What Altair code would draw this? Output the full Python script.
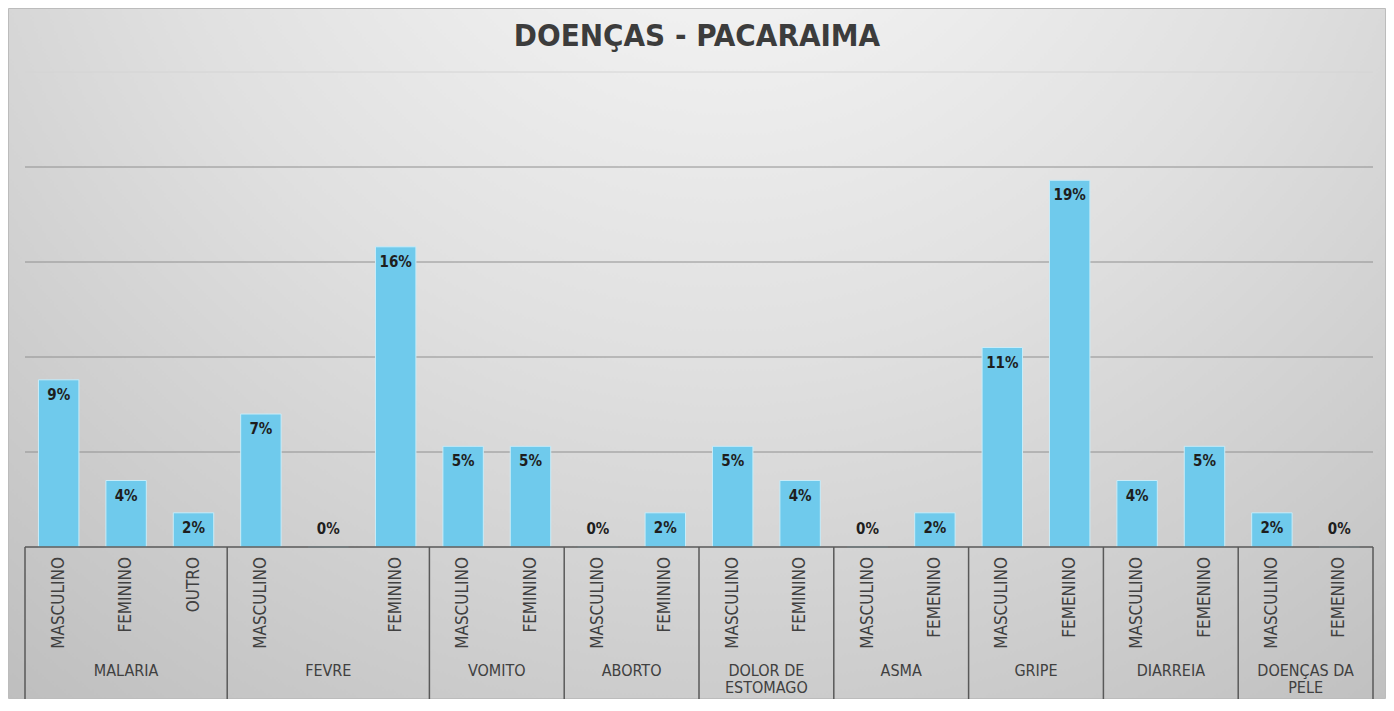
import altair as alt
import pandas as pd

# ---- data ----
title_text = "DOENÇAS -  PACARAIMA"
diseases = ["MALARIA", "FEVRE", "VOMITO", "ABORTO", "DOLOR DE\nESTOMAGO",
            "ASMA", "GRIPE", "DIARREIA", "DOENÇAS DA\nPELE"]
group_sizes = [3, 3, 2, 2, 2, 2, 2, 2, 2]
subcats = ["MASCULINO", "FEMININO", "OUTRO",
           "MASCULINO", "", "FEMININO",
           "MASCULINO", "FEMININO",
           "MASCULINO", "FEMININO",
           "MASCULINO", "FEMININO",
           "MASCULINO", "FEMENINO",
           "MASCULINO", "FEMENINO",
           "MASCULINO", "FEMENINO",
           "MASCULINO", "FEMENINO"]
values = [8.8, 3.5, 1.8,
          7.0, 0.0, 15.8,
          5.3, 5.3,
          0.0, 1.8,
          5.3, 3.5,
          0.0, 1.8,
          10.5, 19.3,
          3.5, 5.3,
          1.8, 0.0]
value_labels = ["9%", "4%", "2%", "7%", "0%", "16%", "5%", "5%", "0%", "2%",
                "5%", "4%", "0%", "2%", "11%", "19%", "4%", "5%", "2%", "0%"]
grid_ticks = [5, 10, 15, 20]
top_tick = [25]

# ---- tables built from the lists ----
bars = pd.DataFrame({
    "idx": list(range(len(values))),
    "sub": subcats,
    "value": values,
    "label": value_labels,
})
starts = []
s = 0
for g in group_sizes:
    starts.append(s)
    s += g
groups = pd.DataFrame({"name": diseases, "start": starts, "size": group_sizes})
bounds = pd.DataFrame({"b": starts + [s]})

W = 1348
H = 475
PAD = {"left": 17, "top": 64, "right": 13, "bottom": 152}
FONT = "DejaVu Sans Condensed"

xs = alt.Scale(domain=[0, len(values)], nice=False, zero=False)
ys = alt.Scale(domain=[0, 25], nice=False)

bg = alt.Chart(pd.DataFrame({"a": [0]})).mark_rect(
    fill=alt.RadialGradient(
        gradient="radial", x1=0.52, y1=0.08, x2=0.52, y2=0.08, r1=0, r2=0.85,
        stops=[alt.GradientStop(offset=0, color="#fbfbfb"),
               alt.GradientStop(offset=0.5, color="#e0e0e0"),
               alt.GradientStop(offset=1, color="#bebebe")]),
    stroke="#bcbcbc", strokeWidth=1
).encode(
    x=alt.value(-PAD["left"] + 0.5), x2=alt.value(W + PAD["right"] - 0.5),
    y=alt.value(-PAD["top"] + 0.5), y2=alt.value(H + PAD["bottom"] - 0.5)
)

title = alt.Chart(pd.DataFrame({"t": [title_text]})).mark_text(
    font=FONT, fontSize=31, fontWeight="bold", color="#3c3c3c",
    align="center", baseline="middle"
).encode(x=alt.value(W / 2 - 2), y=alt.value(-35), text="t:N")

grid = alt.Chart(pd.DataFrame({"t": grid_ticks})).mark_rule(
    color="#909090", strokeWidth=1
).encode(y=alt.Y("t:Q", scale=ys, axis=None), x=alt.value(0), x2=alt.value(W))

grid_top = alt.Chart(pd.DataFrame({"t": top_tick})).mark_rule(
    color="#d4d4d4", strokeWidth=1
).encode(y=alt.Y("t:Q", scale=ys, axis=None), x=alt.value(0), x2=alt.value(W))

base = alt.Chart(bars).transform_calculate(
    x0="datum.idx + 0.2", x1="datum.idx + 0.8", xm="datum.idx + 0.5",
    ly="max(datum.value, 1.75)"
)

bar = base.mark_bar(color="#6fcaec", stroke="#c9ecf8", strokeWidth=1).encode(
    x=alt.X("x0:Q", scale=xs, axis=None),
    x2="x1:Q",
    y=alt.Y("value:Q", scale=ys, axis=None),
    y2=alt.datum(0),
)

vlabels = base.mark_text(
    font=FONT, fontSize=15, fontWeight="bold", color="#1e1e1e",
    baseline="middle", dy=15
).encode(
    x=alt.X("xm:Q", scale=xs, axis=None),
    y=alt.Y("ly:Q", scale=ys, axis=None),
    text="label:N",
)

sublabels = base.mark_text(
    font=FONT, fontSize=17, color="#404040", angle=270, align="right",
    baseline="middle"
).encode(
    x=alt.X("xm:Q", scale=xs, axis=None),
    y=alt.value(H + 10),
    text="sub:N",
)

glabels = alt.Chart(groups).transform_calculate(
    c="datum.start + datum.size / 2"
).mark_text(
    font=FONT, fontSize=16, color="#404040", baseline="top", align="center",
    lineBreak="\n", lineHeight=17
).encode(
    x=alt.X("c:Q", scale=xs, axis=None),
    y=alt.value(H + 116),
    text="name:N",
)

seps = alt.Chart(bounds).mark_rule(color="#595959", strokeWidth=1.5).encode(
    x=alt.X("b:Q", scale=xs, axis=None),
    y=alt.value(H), y2=alt.value(H + 160),
)

axis_line = alt.Chart(pd.DataFrame({"t": [0]})).mark_rule(
    color="#595959", strokeWidth=1.5
).encode(y=alt.Y("t:Q", scale=ys, axis=None), x=alt.value(0), x2=alt.value(W))

chart = alt.layer(
    bg, title, grid_top, grid, bar, vlabels, axis_line, seps, sublabels, glabels
).properties(
    width=W, height=H,
    autosize=alt.AutoSizeParams(type="none"),
    padding=PAD,
).configure_view(stroke=None).configure(background="white")

chart.save("out.html", embed_options={"renderer": "svg", "actions": False})
